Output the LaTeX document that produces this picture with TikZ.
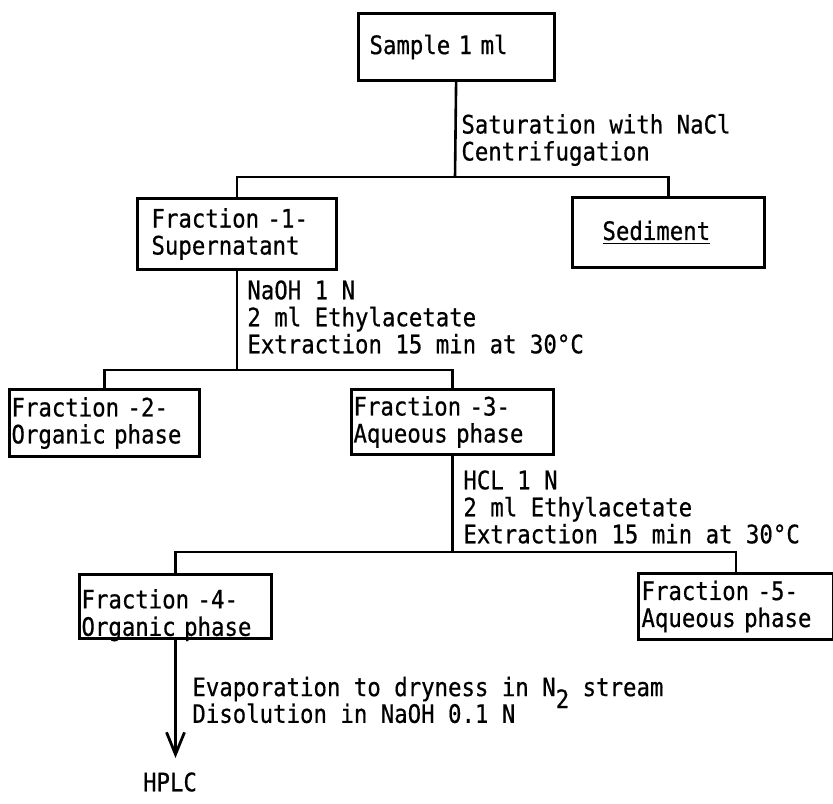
\documentclass[tikz,border=0pt]{standalone}
\usepackage{fontspec}
\setmonofont[FakeStretch=0.88, FakeBold=0.6]{DejaVu Sans Mono}
\usetikzlibrary{arrows.meta, positioning}

\begin{document}
\begin{tikzpicture}[
        x=0.5pt, y=-0.5pt,
        every node/.style={font=\fontsize{12.7}{13.5}\selectfont\ttfamily},
        box/.style={rectangle, draw=black, line width=1.5pt, anchor=north west, inner ysep=0pt, align=left},
        note/.style={anchor=west, inner sep=0pt, align=left},
        link/.style={line width=1.3pt},
        flow/.style={line width=1.3pt, -{Straight Barb[length=11pt, width=9pt, line width=1.4pt]}, shorten >=6pt}
    ]
    \useasboundingbox (0,0) rectangle (833,803);

    % Boxes
    \node[box, minimum width=98pt, minimum height=33.5pt, inner xsep=5.5pt, text width=87pt] (sample) at (357,12) {Sample 1 ml};
    \node[box, minimum width=99.5pt, minimum height=35.5pt, inner xsep=7pt, text width=85.5pt] (frac1) at (136,197) {Fraction -1-\\Supernatant};
    \node[box, minimum width=96pt, minimum height=35pt, inner xsep=15pt, text width=66pt] (sediment) at (571,196) {\underline{Sediment}};
    \node[box, minimum width=95pt, minimum height=33.5pt, inner xsep=1pt, text width=93pt] (frac2) at (8,388) {Fraction -2-\\Organic phase};
    \node[box, minimum width=101pt, minimum height=32.5pt, inner xsep=1pt, text width=99pt] (frac3) at (350,388) {Fraction -3-\\Aqueous phase};
    \node[box, minimum width=96pt, minimum height=32pt, inner xsep=1pt, text width=94pt] (frac4) at (78,573) {\raisebox{-5pt}[\height][\depth]{\begin{tabular}{@{}l@{}}Fraction -4-\\Organic phase\end{tabular}}};
    \node[box, minimum width=97.5pt, minimum height=33pt, inner xsep=1.5pt, text width=94.5pt] (frac5) at (637,572) {Fraction -5-\\Aqueous phase};
    \node[inner sep=1pt] (hplc) at (170,782) {HPLC};

    % Conditions
    \node[note] (cond1) at (461,140) {Saturation with NaCl\\Centrifugation};
    \node[note] (cond2) at (247,317) {NaOH 1 N\\2 ml Ethylacetate\\Extraction 15 min at 30°C};
    \node[note] (cond3) at (463,507) {HCL 1 N\\2 ml Ethylacetate\\Extraction 15 min at 30°C};
    \node[note, font=\fontsize{12.7}{12}\selectfont\ttfamily] (cond4) at (192,700) {Evaporation to dryness in N\raisebox{-6pt}[\height][0pt]{2} stream\\Disolution in NaOH 0.1 N};

    % Connectors
    \coordinate (split1) at (455,177);
    \draw[link] (sample) -- (split1);
    \draw[link] (frac1.north) |- (split1) -| (sediment.north);

    \coordinate (split2) at (frac1.south |- 0,370);
    \draw[link] (frac1) -- (split2);
    \draw[link] (frac2.north) |- (split2) -| (frac3.north);

    \coordinate (split3) at (frac3.south |- 0,552);
    \draw[link] (frac3) -- (split3);
    \draw[link] (frac4.north) |- (split3) -| (frac5.north);

    \draw[flow] (frac4.south) -- (frac4.south |- hplc.north);

\end{tikzpicture}
\end{document}
